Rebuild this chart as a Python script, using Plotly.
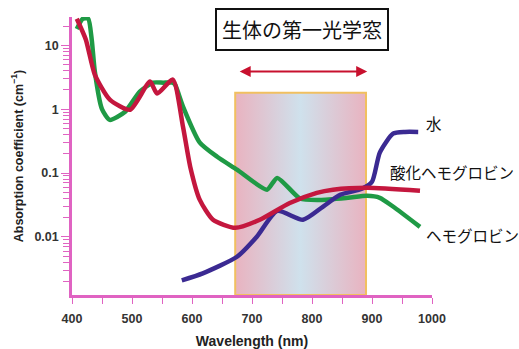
import math
import plotly.graph_objects as go

# ---- data ----
hb_nm = [408, 418, 427, 433, 438, 450, 463, 488, 513, 535, 552, 568, 572, 585, 613, 642, 675, 725, 742, 780, 813, 860, 892, 913, 935, 980]
hb_val = [18.0, 26.0, 26.0, 12.0, 3.9, 1.0, 0.68, 0.9, 1.88, 2.6, 2.6, 2.6, 2.4, 1.1, 0.30, 0.18, 0.113, 0.055, 0.084, 0.040, 0.038, 0.041, 0.044, 0.041, 0.030, 0.0144]

hbo2_nm = [408, 423, 438, 463, 497, 530, 542, 568, 585, 597, 613, 635, 672, 713, 763, 808, 835, 892, 980]
hbo2_val = [26.0, 12.3, 3.47, 1.41, 0.98, 2.7, 1.75, 2.9, 0.53, 0.126, 0.038, 0.0186, 0.0139, 0.0186, 0.034, 0.049, 0.055, 0.059, 0.053]

water_nm = [583, 618, 675, 708, 742, 785, 818, 847, 883, 900, 913, 935, 955, 977]
water_val = [0.0021, 0.0027, 0.0049, 0.0101, 0.0256, 0.0186, 0.0297, 0.0457, 0.0567, 0.073, 0.209, 0.413, 0.44, 0.44]

window_nm = [672, 890]
window_top = 1.8
arrow_nm = [677, 892]
arrow_y = 3.87

y_tickvals = [0.01, 0.1, 1, 10]
y_ticktext = ["0.01", "0.1", "1", "10"]
x_tickvals = [400, 500, 600, 700, 800, 900, 1000]

title_text = "生体の第一光学窓"
label_water = "水"
label_hbo2 = "酸化ヘモグロビン"
label_hb = "ヘモグロビン"
label_pos = [(label_water, 987, 0.61), (label_hbo2, 926, 0.105), (label_hb, 986, 0.0108)]

# ---- styling ----
PINK = "#e063c2"
GREEN = "#1f9a45"
RED = "#c4173e"
BLUE = "#3b2a92"
JP = "Noto Sans CJK JP"
LAT = "Liberation Sans, Arial"

ylog_range = [-2.908, 1.442]
y_bottom = 10 ** ylog_range[0]

fig = go.Figure()

# optical window box with gradient
fig.add_trace(go.Scatter(
    x=[window_nm[0], window_nm[1], window_nm[1], window_nm[0], window_nm[0]],
    y=[y_bottom, y_bottom, window_top, window_top, y_bottom],
    mode="lines", fill="toself",
    line=dict(color="#f1c060", width=2),
    fillgradient=dict(type="horizontal",
                      colorscale=[[0, "#e9b3c0"], [0.5, "#cfe1ec"], [1, "#e9b3c0"]]),
    hoverinfo="skip", showlegend=False,
))

fig.add_trace(go.Scatter(x=hb_nm, y=hb_val, mode="lines",
                         line=dict(color=GREEN, width=4.5, shape="spline", smoothing=0.6),
                         showlegend=False))
fig.add_trace(go.Scatter(x=water_nm, y=water_val, mode="lines",
                         line=dict(color=BLUE, width=4.5, shape="spline", smoothing=0.6),
                         showlegend=False))
fig.add_trace(go.Scatter(x=hbo2_nm, y=hbo2_val, mode="lines",
                         line=dict(color=RED, width=4.5, shape="spline", smoothing=0.6),
                         showlegend=False))

# double-headed arrow over the window (log axis -> log10 coordinates)
fig.add_annotation(x=arrow_nm[1], y=math.log10(arrow_y),
                   ax=arrow_nm[0], ay=math.log10(arrow_y),
                   xref="x", yref="y", axref="x", ayref="y",
                   text="", showarrow=True, arrowhead=2, startarrowhead=2,
                   arrowside="end+start", arrowsize=1.1, arrowwidth=2,
                   arrowcolor="#c8102e")

# title box
fig.add_annotation(x=0.64, y=0.955, xref="paper", yref="paper",
                   text=title_text, showarrow=False,
                   font=dict(family=JP, size=20, color="#111"),
                   bordercolor="#111", borderwidth=2, borderpad=5,
                   bgcolor="white", xanchor="center", yanchor="middle")

# curve labels
for txt, xv, yv in label_pos:
    fig.add_annotation(x=xv, y=math.log10(yv), xref="x", yref="y", text=txt, showarrow=False,
                       xanchor="left", yanchor="middle",
                       font=dict(family=JP, size=15.5, color="#111"))

fig.update_xaxes(range=[400, 1000], tickvals=x_tickvals, automargin=False,
                 showline=True, linecolor=PINK, linewidth=2.5,
                 ticks="outside", ticklen=6, tickcolor=PINK, tickwidth=1,
                 minor=dict(ticks="outside", ticklen=6, tickcolor=PINK, dtick=50),
                 showgrid=False, zeroline=False, ticklabelstandoff=4,
                 tickfont=dict(family=LAT, size=12.5, color="#333", weight="bold"),
                 title=dict(text="<b>Wavelength (nm)</b>", standoff=14,
                            font=dict(family=LAT, size=14, color="#222")))

fig.update_yaxes(type="log", range=ylog_range, tickvals=y_tickvals, ticktext=y_ticktext,
                 automargin=False,
                 showline=True, linecolor=PINK, linewidth=2.5,
                 ticks="outside", ticklen=8, tickcolor=PINK, tickwidth=1,
                 minor=dict(ticks="outside", ticklen=6, tickcolor=PINK, dtick="D1", showgrid=False),
                 showgrid=False, zeroline=False,
                 tickfont=dict(family=LAT, size=12.5, color="#333", weight="bold"),
                 title=dict(text="<b>Absorption coefficient (cm<sup>−1</sup>)</b>", standoff=9,
                            font=dict(family=LAT, size=12.5, color="#222")))

fig.update_layout(width=519, height=349,
                  margin=dict(l=72, r=87, t=17, b=54),
                  paper_bgcolor="white", plot_bgcolor="white")

fig.write_html("out.html")
